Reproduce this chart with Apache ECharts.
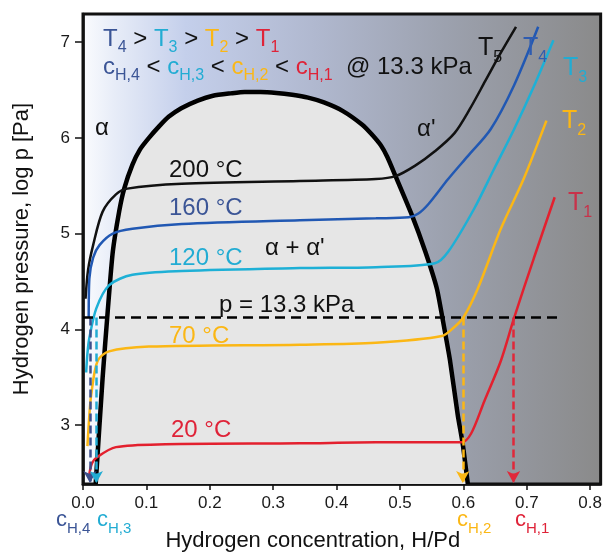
<!DOCTYPE html>
<html>
<head>
<meta charset="utf-8">
<script src="https://cdn.jsdelivr.net/npm/echarts@6/dist/echarts.min.js"></script>
<style>
  html, body { margin: 0; padding: 0; background: #fff; }
  #main { width: 605px; height: 557px; }
</style>
</head>
<body>
<div id="main"></div>
<script>
// phase boundary (alpha / alpha + alpha' dome), [H/Pd, log p]
var dome = [[0.020, 2.385], [0.031, 3.5], [0.039, 4.19], [0.047, 4.81], [0.057, 5.23], [0.065, 5.47],
  [0.078, 5.72], [0.09, 5.88], [0.104, 6.0], [0.12, 6.12], [0.135, 6.22], [0.155, 6.31], [0.181, 6.39],
  [0.205, 6.44], [0.233, 6.465], [0.255, 6.48], [0.28, 6.48], [0.305, 6.47], [0.33, 6.45], [0.355, 6.42],
  [0.38, 6.37], [0.41, 6.28], [0.44, 6.14], [0.455, 6.04], [0.47, 5.92], [0.48, 5.80], [0.493, 5.6],
  [0.519, 5.19], [0.540, 4.81], [0.558, 4.43], [0.568, 4.08], [0.579, 3.67], [0.591, 3.11], [0.599, 2.80],
  [0.607, 2.385]];

// isotherms
var iso200 = [[0.004, 4.32], [0.008, 4.62], [0.016, 4.88], [0.031, 5.23], [0.052, 5.41], [0.070, 5.47],
  [0.156, 5.52], [0.342, 5.55], [0.462, 5.57], [0.493, 5.60], [0.524, 5.71], [0.555, 5.86], [0.586, 6.05],
  [0.61, 6.3], [0.635, 6.6], [0.66, 6.9], [0.683, 7.16]];
var iso160 = [[0.009, 4.12], [0.010, 4.53], [0.016, 4.75], [0.026, 4.88], [0.047, 5.0], [0.078, 5.05],
  [0.156, 5.10], [0.342, 5.14], [0.462, 5.16], [0.514, 5.17], [0.529, 5.21], [0.545, 5.31], [0.576, 5.57],
  [0.607, 5.81], [0.643, 6.09], [0.68, 6.55], [0.718, 7.16]];
var iso120 = [[0.005, 3.55], [0.007, 3.75], [0.010, 3.91], [0.021, 4.22], [0.041, 4.46], [0.078, 4.57],
  [0.156, 4.61], [0.342, 4.64], [0.462, 4.65], [0.555, 4.69], [0.576, 4.81], [0.617, 5.26], [0.648, 5.67],
  [0.68, 6.09], [0.71, 6.52], [0.742, 7.02]];
var iso70 = [[0.007, 2.78], [0.010, 3.1], [0.013, 3.32], [0.023, 3.67], [0.041, 3.77], [0.104, 3.82],
  [0.342, 3.84], [0.462, 3.86], [0.566, 3.93], [0.585, 4.02], [0.600, 4.124], [0.623, 4.43], [0.659, 5.05],
  [0.695, 5.57], [0.731, 6.18]];
var iso20 = [[0.010, 2.49], [0.014, 2.6], [0.021, 2.66], [0.052, 2.77], [0.13, 2.80], [0.342, 2.81],
  [0.462, 2.82], [0.597, 2.82], [0.612, 2.91], [0.633, 3.25], [0.659, 3.67], [0.680, 4.12], [0.711, 4.74],
  [0.744, 5.38]];

var pLine = 4.124;            // log10(13.3 kPa)
var pLineEnd = 0.757;
var arrowC = [0.011, 0.021, 0.599, 0.679];   // c_H,4  c_H,3  c_H,2  c_H,1
var xTicks = [0, 0.1, 0.2, 0.3, 0.4, 0.5, 0.6, 0.7, 0.8];
var yTicks = [3, 4, 5, 6, 7];
var yMin = 2.385, yMax = 7.294;

var FONT = '"Liberation Sans", Arial, sans-serif';
var COL = { b: '#3b5596', B: '#2f5cb0', c: '#22acd3', y: '#fbb715', r: '#df2338', R: '#c8324a', k: '#111111' };
var curveCol = ['#111111', '#2158b3', '#1eb0d6', '#fbb715', '#e3202e'];
var arrowCol = ['#3d4f8c', '#22acd3', '#fbb715', '#e0283a'];

function rich(main, subSz, pad) {
  var r = {};
  Object.keys(COL).forEach(function (k) {
    r[k] = { fontSize: main, lineHeight: main, fill: COL[k], fontFamily: FONT, verticalAlign: 'top' };
    r[k + 's'] = { fontSize: subSz, lineHeight: subSz, fill: COL[k], fontFamily: FONT,
      verticalAlign: 'top', padding: [pad, 0, 0, 0] };
  });
  return r;
}
function txt(x, y, text, main, subSz, pad) {
  return { type: 'text', x: x, y: y, z: 100, silent: true,
    style: { text: text, rich: rich(main, subSz || 15, pad || 14) } };
}

var myChart = echarts.init(document.getElementById('main'));

function iso(data, color) {
  return { type: 'line', data: data, smooth: 0.3, symbol: 'none', z: 4,
    lineStyle: { color: color, width: 2.5 } };
}

var option = {
  animation: false,
  grid: {
    left: 83, top: 14, right: -3, bottom: 70,
    show: true, borderColor: '#111', borderWidth: 3,
    backgroundColor: new echarts.graphic.LinearGradient(0, 0, 1, 0, [
      { offset: 0, color: '#fbfcfe' },
      { offset: 0.06, color: '#e8edf8' },
      { offset: 0.2, color: '#c4cfeb' },
      { offset: 0.45, color: '#b0b8cf' },
      { offset: 0.7, color: '#9ca1ae' },
      { offset: 1, color: '#8a8a8a' }
    ])
  },
  xAxis: {
    type: 'value', min: 0, max: 0.8165,
    name: 'Hydrogen concentration, H/Pd', nameLocation: 'middle', nameGap: 46,
    nameTextStyle: { fontSize: 22, color: '#111', fontFamily: FONT, padding: [0, 58, 0, 0] },
    axisLine: { show: true, onZero: false, lineStyle: { color: '#111', width: 2.5 } },
    axisTick: { show: true, customValues: xTicks, length: 6, lineStyle: { color: '#111', width: 1.5 } },
    axisLabel: { customValues: xTicks, margin: 11, fontSize: 17, color: '#1a1a1a', fontFamily: FONT,
      formatter: function (v) { return v.toFixed(1); } },
    splitLine: { show: false }
  },
  yAxis: {
    type: 'value', min: yMin, max: yMax,
    name: 'Hydrogen pressure, log p [Pa]', nameLocation: 'middle', nameGap: 50,
    nameTextStyle: { fontSize: 22, color: '#111', fontFamily: FONT },
    axisLine: { show: true, onZero: false, lineStyle: { color: '#111', width: 2.5 } },
    axisTick: { show: true, customValues: yTicks, length: 8, lineStyle: { color: '#111', width: 1.5 } },
    axisLabel: { customValues: yTicks, margin: 13, fontSize: 17, color: '#1a1a1a', fontFamily: FONT },
    splitLine: { show: false }
  },
  series: [
    {
      type: 'line', data: dome, smooth: 0.2, symbol: 'none', z: 2,
      lineStyle: { color: '#000', width: 4.5 },
      areaStyle: { color: '#e6e6e6', opacity: 1, origin: 'start' }
    },
    iso(iso200, curveCol[0]),
    iso(iso160, curveCol[1]),
    iso(iso120, curveCol[2]),
    iso(iso70, curveCol[3]),
    iso(iso20, curveCol[4]),
    {
      type: 'line', data: [[0, pLine], [pLineEnd, pLine]], symbol: 'none', z: 5,
      lineStyle: { color: '#000', width: 2.5, type: [10, 6] },
      markLine: {
        silent: true, animation: false, symbol: ['none', 'arrow'], symbolSize: [10, 12],
        label: { show: false },
        data: arrowC.map(function (c, i) {
          return [
            { coord: [c, pLine], lineStyle: { color: arrowCol[i], width: 2.5, type: [8, 4] } },
            { coord: [c, yMin + 0.01] }
          ];
        })
      }
    }
  ],
  graphic: [
    txt(103, 27, '{b|T}{bs|4}{k| > }{c|T}{cs|3}{k| > }{y|T}{ys|2}{k| > }{r|T}{rs|1}', 24, 16, 13),
    txt(103, 55, '{b|c}{bs|H,4}{k| < }{c|c}{cs|H,3}{k| < }{y|c}{ys|H,2}{k| < }{r|c}{rs|H,1}{k|  @ 13.3 kPa}', 24, 16, 13),
    txt(478, 36, '{k|T}{ks|5}', 25, 16, 14),
    txt(523, 36, '{B|T}{Bs|4}', 25, 16, 14),
    txt(563, 56, '{c|T}{cs|3}', 25, 16, 14),
    txt(562, 109, '{y|T}{ys|2}', 25, 16, 14),
    txt(568, 191, '{R|T}{Rs|1}', 25, 16, 14),
    txt(169, 158, '{k|200 °C}', 24),
    txt(169, 196, '{b|160 °C}', 24),
    txt(169, 246, '{c|120 °C}', 24),
    txt(169, 324, '{y|70 °C}', 24),
    txt(171, 418, '{r|20 °C}', 24),
    txt(265, 236, "{k|α + α'}", 24),
    txt(219, 293, '{k|p = 13.3 kPa}', 24),
    txt(95, 116, '{k|α}', 24),
    txt(417, 117, "{k|α'}", 24),
    txt(56, 509, '{b|c}{bs|H,4}', 22, 15, 12),
    txt(97, 509, '{c|c}{cs|H,3}', 22, 15, 12),
    txt(457, 509, '{y|c}{ys|H,2}', 22, 15, 12),
    txt(515, 509, '{r|c}{rs|H,1}', 22, 15, 12)
  ]
};

myChart.setOption(option);
</script>
</body>
</html>
